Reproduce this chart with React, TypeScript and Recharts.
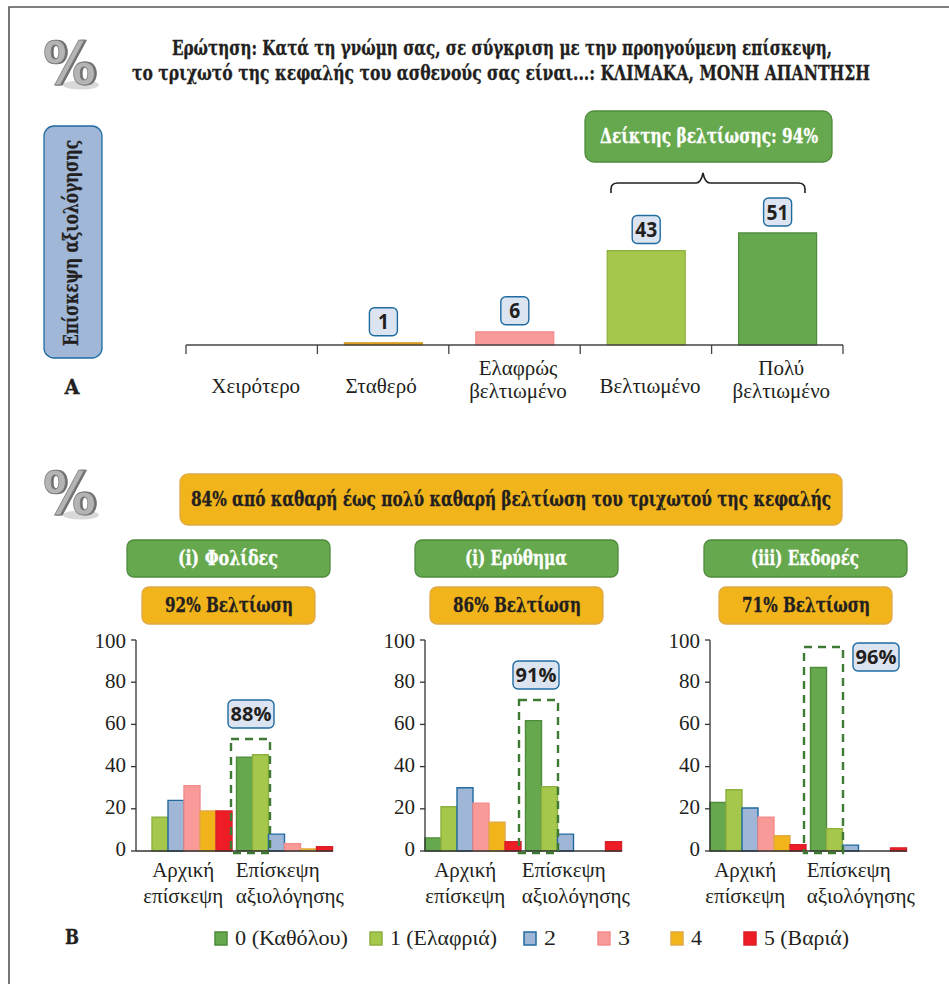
import React from "react";
import { Bar, BarChart, Cell, LabelList, XAxis, YAxis } from "recharts";

const SERIF = '"Liberation Serif", serif';
const SLAB = '"DejaVu Serif Condensed", "DejaVu Serif", "Liberation Serif", serif';
const BADGE_FONT = '"Open Sans", sans-serif';

const GREEN = { fill: "#66A84D", stroke: "#4F8A3D" };
const LIME = { fill: "#A5C74C", stroke: "#8DB03F" };
const BLUE = { fill: "#9FB6D6", stroke: "#1F6BA0" };
const PINK = { fill: "#F79A98", stroke: "#F58C8C" };
const AMBER = { fill: "#F2B41B", stroke: "#E0A94A" };
const RED = { fill: "#EE1C25", stroke: "#D8202A" };

// Panel A
const responseCategories = [
  "Χειρότερο",
  "Σταθερό",
  "Ελαφρώς\nβελτιωμένο",
  "Βελτιωμένο",
  "Πολύ\nβελτιωμένο",
];
const responseValues = [0, 1, 6, 43, 51];
const responseColors = [RED, { fill: "#E6A51F", stroke: "#D3951C" }, PINK, LIME, GREEN];
const responseLabelShift = [4, -2, 3.5, 4, 4];

// Panel B
const visitCategories = ["Αρχική\nεπίσκεψη", "Επίσκεψη\nαξιολόγησης"];
const gradeNames = ["0 (Καθόλου)", "1 (Ελαφριά)", "2", "3", "4", "5 (Βαριά)"];
const gradeColors = [GREEN, LIME, BLUE, PINK, AMBER, RED];

const scalesBaseline = [0, 16, 24, 31, 19, 19];
const scalesFollowUp = [44.5, 45.6, 8, 3.5, 1, 2];
const erythemaBaseline = [6.2, 21, 30, 22.7, 13.6, 4.4];
const erythemaFollowUp = [61.8, 30.5, 8, 0, 0, 4.4];
const crustsBaseline = [23, 29, 20.4, 16, 7.3, 3];
const crustsFollowUp = [87, 10.6, 2.8, 0, 0, 1.5];

const buildRows = (baseline: number[], followUp: number[]) =>
  [baseline, followUp].map((values, i) => {
    const row: Record<string, number | string> = { name: visitCategories[i] };
    values.forEach((v, g) => {
      row[`g${g}`] = v;
    });
    return row;
  });

const chartPanels = [
  { left: 90, baseShift: -1, followShift: -49, rows: buildRows(scalesBaseline, scalesFollowUp) },
  { left: 379, baseShift: -8, followShift: -52, rows: buildRows(erythemaBaseline, erythemaFollowUp) },
  { left: 664, baseShift: -13, followShift: -52, rows: buildRows(crustsBaseline, crustsFollowUp) },
];

// Text with an optional fixed run length
function Label({
  x,
  y,
  size,
  len,
  bold,
  color = "#231F20",
  anchor = "middle",
  family = SLAB,
  children,
}: any) {
  return (
    <text
      x={x}
      y={y}
      fontSize={size}
      fontFamily={family}
      fontWeight={bold ? 700 : 400}
      fill={color}
      stroke={bold && family === SLAB ? color : undefined}
      strokeWidth={bold && family === SLAB ? 0.3 : undefined}
      textAnchor={anchor}
      textLength={len}
      lengthAdjust={len ? "spacingAndGlyphs" : undefined}
    >
      {children}
    </text>
  );
}

// Long heading, narrowed horizontally around its centre
function Heading({ x, y, squeeze, children }: any) {
  return (
    <g transform={`translate(${x} ${y}) scale(${squeeze} 1)`}>
      <Label x={0} y={0} size={21} bold>
        {children}
      </Label>
    </g>
  );
}

function Pill({ x, y, w, h, r = 8, fill, stroke }: any) {
  return <rect x={x} y={y} width={w} height={h} rx={r} fill={fill} stroke={stroke} strokeWidth={1.3} />;
}

function Badge({ x, y, w, h, text, size = 20, len }: any) {
  return (
    <g>
      <rect x={x} y={y} width={w} height={h} rx={5} fill="#DCE4F1" stroke="#1F6BA0" strokeWidth={1.4} />
      <Label x={x + w / 2} y={y + h / 2 + size * 0.36} size={size} bold len={len} family={BADGE_FONT}>
        {text}
      </Label>
    </g>
  );
}

function PercentIcon({ x, y }: { x: number; y: number }) {
  return (
    <g transform={`translate(${x} ${y})`}>
      <ellipse cx={38} cy={43} rx={18} ry={4.5} fill="#D9D9D9" />
      <text
        x={0}
        y={42}
        fontSize={58}
        fontFamily='"DejaVu Sans", sans-serif'
        fontWeight={700}
        textLength={53}
        lengthAdjust="spacingAndGlyphs"
        fill="#B4B4B4"
        stroke="#7A7A7A"
        strokeWidth={0.8}
        style={{ filter: "drop-shadow(2px 0 0 #6E6E6E)" }}
      >
        %
      </text>
    </g>
  );
}

// Category label plus the tick marks on the band edges of panel A
function ResponseTick({ x, y, payload, index }: any) {
  const lines = String(payload.value).split("\n");
  const half = 657 / 5 / 2;
  const textX = x + responseLabelShift[index];
  return (
    <g>
      <line x1={x - half} x2={x - half} y1={y} y2={y + 9} stroke="#444" strokeWidth={1.3} />
      {index === responseCategories.length - 1 && (
        <line x1={x + half} x2={x + half} y1={y} y2={y + 9} stroke="#444" strokeWidth={1.3} />
      )}
      {lines.length === 1 ? (
        <text x={textX} y={y + 48} textAnchor="middle" fontSize={21} fontFamily={SERIF} fill="#231F20">
          {lines[0]}
        </text>
      ) : (
        lines.map((line, i) => (
          <text key={line} x={textX} y={y + 30 + i * 23} textAnchor="middle" fontSize={21} fontFamily={SERIF} fill="#231F20">
            {line}
          </text>
        ))
      )}
    </g>
  );
}

// Follow-up label sits flush left on its band, baseline label is centred
function VisitTick({ x, y, payload, index, baseShift, followShift }: any) {
  const lines = String(payload.value).split("\n");
  return (
    <g>
      {lines.map((line, i) => (
        <text
          key={line}
          x={index === 0 ? x + baseShift : x + followShift}
          y={y + 26 + i * 26}
          textAnchor={index === 0 ? "middle" : "start"}
          fontSize={21}
          fontFamily={SERIF}
          fill="#231F20"
        >
          {line}
        </text>
      ))}
    </g>
  );
}

function ValueBadge({ x, y, width, value }: any) {
  if (!value) return null;
  return <Badge x={x + width / 2 - 14} y={y - 35} w={28} h={28} text={value} size={21} len={String(value).length * 11} />;
}

function ResponseChart() {
  const data = responseCategories.map((name, i) => ({ name, value: responseValues[i] }));
  return (
    <BarChart
      data={data}
      width={700}
      height={240}
      margin={{ top: 33.2, right: 17, bottom: 0, left: 26 }}
    >
      <XAxis
        dataKey="name"
        height={75}
        interval={0}
        stroke="#444"
        strokeWidth={1.3}
        tickLine={false}
        tickSize={0}
        tickMargin={0}
        tick={<ResponseTick />}
      />
      <YAxis hide domain={[0, 60]} />
      <Bar dataKey="value" barSize={78} isAnimationActive={false} strokeWidth={1.2}>
        {data.map((d, i) => (
          <Cell key={d.name} fill={responseColors[i].fill} stroke={responseColors[i].stroke} />
        ))}
        <LabelList dataKey="value" content={<ValueBadge />} />
      </Bar>
    </BarChart>
  );
}

function GradeChart({ rows, baseShift, followShift }: any) {
  return (
    <BarChart
      data={rows}
      width={261}
      height={280}
      margin={{ top: 10, right: 18, bottom: 0, left: 0 }}
      barGap={0}
      barCategoryGap={2}
    >
      <XAxis
        dataKey="name"
        height={59}
        interval={0}
        padding={{ left: -2, right: -2 }}
        stroke="#333"
        strokeWidth={1.3}
        tickLine={false}
        tickSize={0}
        tickMargin={0}
        tick={<VisitTick baseShift={baseShift} followShift={followShift} />}
      />
      <YAxis
        width={46}
        domain={[0, 100]}
        ticks={[0, 20, 40, 60, 80, 100]}
        stroke="#333"
        strokeWidth={1.3}
        tickSize={5}
        tickMargin={5}
        tick={{ fill: "#231F20", fontSize: 21, fontFamily: SERIF, dy: -2 }}
      />
      {gradeNames.map((grade, g) => (
        <Bar
          key={grade}
          dataKey={`g${g}`}
          fill={gradeColors[g].fill}
          stroke={gradeColors[g].stroke}
          strokeWidth={1.4}
          isAnimationActive={false}
        />
      ))}
    </BarChart>
  );
}

const legendSwatchX = [215, 370, 524, 598, 671, 744];
const legendTextLen = [113, 107, 12, 12, 11, 85];

const headers = [
  { x: 127, title: "(i) Φολίδες", titleLen: 100, gain: "92% Βελτίωση" },
  { x: 415, title: "(i) Ερύθημα", titleLen: 102, gain: "86% Βελτίωση" },
  { x: 704, title: "(iii) Εκδορές", titleLen: 108, gain: "71% Βελτίωση" },
];

const dashedBoxes = [
  { x: 231, y: 739 },
  { x: 519, y: 700 },
  { x: 804, y: 647 },
];

const scoreBadges = [
  { x: 228, y: 700, text: "88%" },
  { x: 513, y: 661, text: "91%" },
  { x: 853, y: 643, text: "96%" },
];

export default function App() {
  return (
    <div style={{ position: "absolute", left: 0, top: 0, width: 949, height: 984, background: "#fff", overflow: "hidden" }}>
      <div style={{ position: "absolute", left: 160, top: 180 }}>
        <ResponseChart />
      </div>
      {chartPanels.map((p) => (
        <div key={p.left} style={{ position: "absolute", left: p.left, top: 630 }}>
          <GradeChart rows={p.rows} baseShift={p.baseShift} followShift={p.followShift} />
        </div>
      ))}

      {/* frame, headings, callouts and legend */}
      <svg width={949} height={984} style={{ position: "absolute", left: 0, top: 0, pointerEvents: "none" }}>
        <path d="M949 7 H9 V984" fill="none" stroke="#555" strokeWidth={1.6} />

        <PercentIcon x={43} y={42} />
        <PercentIcon x={43} y={472} />

        <Heading x={502} y={55} squeeze={0.803}>
          Ερώτηση: Κατά τη γνώμη σας, σε σύγκριση με την προηγούμενη επίσκεψη,
        </Heading>
        <Heading x={501} y={80} squeeze={0.827}>
          το τριχωτό της κεφαλής του ασθενούς σας είναι...: ΚΛΙΜΑΚΑ, ΜΟΝΗ ΑΠΑΝΤΗΣΗ
        </Heading>

        <Pill x={44} y={126} w={58} h={232} r={10} fill="#A0B7D8" stroke="#1F6BA0" />
        <g transform="translate(78 243) rotate(-90)">
          <Label x={0} y={0} size={21} bold len={206}>
            Επίσκεψη αξιολόγησης
          </Label>
        </g>

        <Pill x={585} y={111} w={247} h={51} r={9} fill="#66A84D" stroke="#4F8A3D" />
        <Label x={709} y={143} size={21} bold color="#fff" len={218}>
          Δείκτης βελτίωσης: 94%
        </Label>
        <path
          d="M611 193 V189 Q611 183 618 183 H696 Q701 183 703 173 Q705 183 710 183 H798 Q805 183 805 189 V193"
          fill="none"
          stroke="#231F20"
          strokeWidth={1.6}
        />

        <Label x={72} y={394} size={20} bold len={15}>
          Α
        </Label>
        <Label x={72} y={944} size={20} bold len={14}>
          Β
        </Label>

        <Pill x={180} y={474} w={662} h={51} r={8} fill="#F2B41B" stroke="#E0A94A" />
        <Heading x={511} y={506} squeeze={0.812}>
          84% από καθαρή έως πολύ καθαρή βελτίωση του τριχωτού της κεφαλής
        </Heading>

        {headers.map((h) => (
          <g key={h.title}>
            <Pill x={h.x} y={540} w={203} h={37} r={7} fill="#66A84D" stroke="#4F8A3D" />
            <Label x={h.x + 101} y={565} size={20} bold color="#fff" len={h.titleLen}>
              {h.title}
            </Label>
            <Pill x={h.x + 15} y={587} w={173} h={37} r={7} fill="#F2B41B" stroke="#E0A94A" />
            <Label x={h.x + 102} y={612} size={21} bold len={128}>
              {h.gain}
            </Label>
          </g>
        ))}

        {dashedBoxes.map((b) => (
          <rect
            key={b.x}
            x={b.x}
            y={b.y}
            width={39}
            height={853 - b.y}
            fill="none"
            stroke="#3F7A35"
            strokeWidth={2.4}
            strokeDasharray="8 6"
          />
        ))}
        {scoreBadges.map((b) => (
          <Badge key={b.x} x={b.x} y={b.y} w={46} h={28} text={b.text} />
        ))}

        {gradeNames.map((name, g) => (
          <g key={name}>
            <rect
              x={legendSwatchX[g]}
              y={932}
              width={12}
              height={13}
              fill={gradeColors[g].fill}
              stroke={gradeColors[g].stroke}
              strokeWidth={1.5}
            />
            <Label
              x={legendSwatchX[g] + 20}
              y={945}
              size={20}
              anchor="start"
              family={SERIF}
              len={legendTextLen[g]}
            >
              {name}
            </Label>
          </g>
        ))}
      </svg>
    </div>
  );
}
